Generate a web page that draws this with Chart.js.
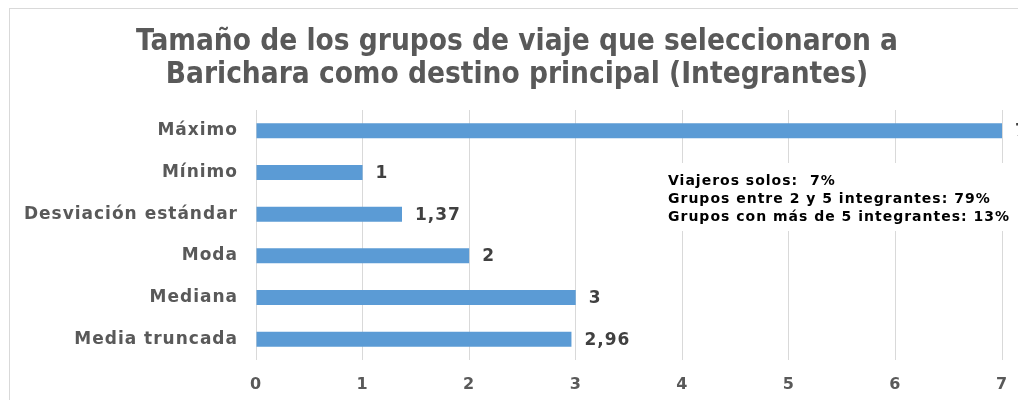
<!DOCTYPE html>
<html>
<head>
<meta charset="utf-8">
<script src="https://cdn.jsdelivr.net/npm/chart.js@4"></script>
<style>
    html, body { margin: 0; padding: 0; background: #fff; }
    #wrap { width: 1018px; height: 400px; position: relative; }
</style>
</head>
<body>
<div id="wrap"><canvas id="groupsChart" width="1018" height="400"></canvas></div>
<script>
// Chart data
const categories = ['Máximo', 'Mínimo', 'Desviación estándar', 'Moda', 'Mediana', 'Media truncada'];
const values = [7, 1, 1.37, 2, 3, 2.96];
const xTicks = [0, 1, 2, 3, 4, 5, 6, 7];
const titleLines = ['Tamaño de los grupos de viaje que seleccionaron a', 'Barichara como destino principal (Integrantes)'];
const noteLines = ['Viajeros solos:  7%', 'Grupos entre 2 y 5 integrantes: 79%', 'Grupos con más de 5 integrantes: 13%'];

const BAR_COLOR = '#5B9BD5';
const TEXT_GRAY = '#595959';
const LABEL_FONT = "'DejaVu Sans', Verdana, sans-serif";

// Frame border + title, then widen letter spacing for the Verdana-like labels
const frameAndTitle = {
    id: 'frameAndTitle',
    beforeDraw(chart) {
        const ctx = chart.ctx;
        ctx.save();
        ctx.strokeStyle = '#d9d9d9';
        ctx.lineWidth = 1;
        ctx.strokeRect(9.5, 8.5, 2000, 2000);
        ctx.letterSpacing = '0px';
        ctx.font = "bold 29.5px 'DejaVu Sans Condensed', 'DejaVu Sans', sans-serif";
        ctx.fillStyle = TEXT_GRAY;
        ctx.textAlign = 'center';
        ctx.textBaseline = 'middle';
        titleLines.forEach((line, i) => ctx.fillText(line, 517, 42 + i * 33));
        ctx.restore();
        ctx.letterSpacing = '1px';
    },
    afterDraw(chart) {
        chart.ctx.letterSpacing = '0px';
    }
};

// Value labels at the end of each bar
const valueLabels = {
    id: 'valueLabels',
    afterDatasetsDraw(chart) {
        const ctx = chart.ctx;
        const meta = chart.getDatasetMeta(0);
        ctx.save();
        ctx.letterSpacing = '1px';
        ctx.font = "bold 17px " + LABEL_FONT;
        ctx.fillStyle = '#404040';
        ctx.textAlign = 'left';
        ctx.textBaseline = 'middle';
        meta.data.forEach((bar, i) => {
            const txt = values[i].toLocaleString('es-CO', { maximumFractionDigits: 2 });
            ctx.fillText(txt, bar.x + 13, bar.y + 1);
        });
        ctx.restore();
    }
};

// Text box with group-size shares
const noteBox = {
    id: 'noteBox',
    afterDraw(chart) {
        const ctx = chart.ctx;
        ctx.save();
        ctx.fillStyle = '#fff';
        ctx.fillRect(658, 163, 360, 68);
        ctx.letterSpacing = '1px';
        ctx.font = "bold 14px " + LABEL_FONT;
        ctx.fillStyle = '#000';
        ctx.textAlign = 'left';
        ctx.textBaseline = 'middle';
        noteLines.forEach((line, i) => {
            ctx.fillText(line, 668, 181 + i * 18);
        });
        ctx.restore();
    }
};

new Chart(document.getElementById('groupsChart'), {
    type: 'bar',
    data: {
        labels: categories,
        datasets: [{
            data: values,
            backgroundColor: BAR_COLOR,
            barPercentage: 0.36,
            categoryPercentage: 1
        }]
    },
    options: {
        indexAxis: 'y',
        responsive: false,
        animation: false,
        layout: { padding: { left: 0, right: 16, top: 110, bottom: 0 } },
        plugins: {
            legend: { display: false },
            tooltip: { enabled: false },
            title: { display: false }
        },
        scales: {
            x: {
                min: 0,
                max: 7,
                afterBuildTicks: scale => { scale.ticks = xTicks.map(v => ({ value: v })); },
                afterFit: scale => {
                    scale.height = 40;
                    scale.paddingLeft = 0;
                    scale.paddingRight = 0;
                },
                grid: { color: '#d9d9d9', drawTicks: false },
                border: { display: false },
                ticks: {
                    color: TEXT_GRAY,
                    padding: 15,
                    font: { family: LABEL_FONT, size: 16, weight: 'bold' }
                }
            },
            y: {
                afterFit: scale => { scale.width = 256; },
                grid: { display: false, drawTicks: false },
                border: { display: false },
                ticks: {
                    color: TEXT_GRAY,
                    padding: 18,
                    font: { family: LABEL_FONT, size: 17, weight: 'bold' }
                }
            }
        }
    },
    plugins: [frameAndTitle, valueLabels, noteBox]
});
</script>
</body>
</html>
